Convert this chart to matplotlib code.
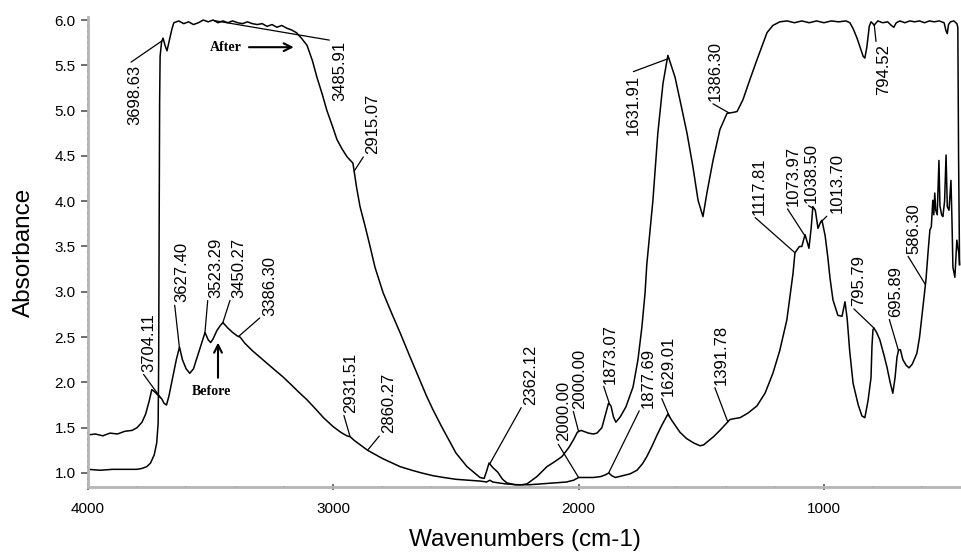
import numpy as np
import matplotlib
matplotlib.use('Agg')
import matplotlib.pyplot as plt
from matplotlib.ticker import MultipleLocator, FormatStrFormatter

plt.rcParams['font.family'] = ['Liberation Sans', 'DejaVu Sans']

# "After" spectrum (upper curve)
after_wn = [4000, 3950, 3900, 3850, 3800, 3780, 3760, 3745, 3730, 3720,
            3714, 3712, 3710, 3708, 3706, 3700, 3694, 3686, 3678, 3668,
            3658, 3650, 3630, 3610, 3590, 3570, 3550, 3530, 3510, 3490,
            3470, 3450, 3430, 3410, 3390, 3370, 3350, 3330, 3310, 3290,
            3270, 3250, 3230, 3210, 3190, 3170, 3150, 3130, 3107, 3085,
            3067, 3045, 3026, 3005, 2985, 2965, 2944, 2920, 2905, 2891,
            2870, 2850, 2830, 2810, 2797, 2760, 2728, 2690, 2659, 2620,
            2594, 2560, 2540, 2500, 2455, 2420, 2402, 2385, 2375, 2365,
            2350, 2330, 2310, 2292, 2260, 2230, 2210, 2170, 2129, 2100,
            2068, 2040, 2020, 2005, 1990, 1960, 1940, 1925, 1905, 1890,
            1878, 1868, 1858, 1848, 1830, 1807, 1778, 1758, 1742, 1729,
            1722, 1697, 1677, 1656, 1636, 1607, 1587, 1558, 1534, 1513,
            1493, 1477, 1452, 1424, 1395, 1370, 1354, 1330, 1302, 1273,
            1232, 1208, 1180, 1150, 1120, 1090, 1060, 1030, 1000, 970,
            940, 910, 894, 880, 865, 850, 840, 833, 825, 815,
            808, 800, 795, 790, 780, 760, 740, 725, 715, 705,
            690, 670, 650, 630, 610, 590, 570, 550, 530, 510,
            502, 497, 492, 484, 470, 458, 454, 451, 447]
after_abs = [1.04, 1.03, 1.04, 1.04, 1.04, 1.05, 1.07, 1.11, 1.20, 1.33,
             1.55, 2.20, 3.80, 5.10, 5.60, 5.76, 5.80, 5.72, 5.66, 5.78,
             5.90, 5.97, 5.99, 5.96, 5.98, 5.95, 5.97, 6.00, 5.98, 6.00,
             5.97, 5.99, 5.97, 5.99, 5.97, 5.96, 5.98, 5.96, 5.95, 5.96,
             5.93, 5.95, 5.92, 5.94, 5.91, 5.89, 5.86, 5.80, 5.72, 5.55,
             5.37, 5.18, 5.00, 4.84, 4.68, 4.58, 4.49, 4.42, 4.15, 3.94,
             3.72, 3.50, 3.27, 3.10, 2.99, 2.75, 2.55, 2.30, 2.10, 1.85,
             1.70, 1.52, 1.42, 1.22, 1.07, 0.99, 0.95, 0.94, 1.02, 1.11,
             1.06, 1.01, 0.93, 0.89, 0.87, 0.87, 0.88, 0.96, 1.07, 1.12,
             1.18, 1.28, 1.37, 1.45, 1.47, 1.44, 1.43, 1.44, 1.50, 1.65,
             1.77, 1.74, 1.62, 1.56, 1.62, 1.73, 1.95, 2.25, 2.61, 2.99,
             3.30, 4.01, 4.75, 5.30, 5.61, 5.37, 5.12, 4.75, 4.38, 4.01,
             3.83, 4.09, 4.45, 4.79, 4.97, 4.98, 4.99, 5.12, 5.34, 5.56,
             5.86, 5.94, 5.98, 5.99, 5.97, 5.99, 5.97, 5.99, 5.97, 5.99,
             5.98, 5.99, 5.97, 5.90, 5.80, 5.68, 5.60, 5.58, 5.70, 5.93,
             5.98, 5.96, 5.94, 5.96, 5.99, 5.97, 5.98, 5.94, 5.92, 5.97,
             5.99, 5.97, 5.99, 5.98, 5.99, 5.97, 5.99, 5.98, 5.99, 5.97,
             5.88, 5.85, 5.95, 5.98, 5.99, 5.96, 5.92, 4.50, 3.30]

# "Before" spectrum (lower curve)
before_wn = [4000, 3970, 3940, 3910, 3880, 3850, 3820, 3800, 3780, 3765,
             3750, 3740, 3730, 3715, 3700, 3690, 3680, 3670, 3655, 3640,
             3627, 3615, 3600, 3585, 3570, 3550, 3535, 3523, 3510, 3500,
             3490, 3475, 3460, 3450, 3430, 3410, 3390, 3380, 3360, 3330,
             3300, 3270, 3240, 3205, 3170, 3140, 3108, 3070, 3040, 3000,
             2970, 2945, 2931, 2915, 2890, 2870, 2860, 2840, 2800, 2760,
             2728, 2680, 2640, 2594, 2550, 2500, 2450, 2400, 2375, 2362,
             2350, 2300, 2250, 2200, 2150, 2100, 2050, 2020, 2000, 1980,
             1940, 1910, 1890, 1877, 1865, 1850, 1820, 1790, 1762, 1740,
             1722, 1700, 1680, 1660, 1636, 1620, 1600, 1587, 1560, 1530,
             1505, 1490, 1477, 1450, 1424, 1400, 1383, 1365, 1342, 1310,
             1273, 1240, 1208, 1180, 1151, 1126, 1118, 1100, 1090, 1077,
             1068, 1061, 1052, 1045, 1035, 1024, 1015, 1008, 995, 984,
             975, 963, 943, 926, 914, 905, 895, 881, 860, 845,
             833, 820, 808, 804, 800, 796, 785, 772, 755, 743,
             730, 719, 710, 702, 695, 688, 678, 665, 653, 640,
             621, 610, 601, 590, 584, 575, 568, 562, 556, 552,
             548, 544, 538, 531, 527, 520, 515, 508, 502, 497,
             490, 482, 478, 474, 466, 458, 450, 447]
before_abs = [1.42, 1.43, 1.41, 1.44, 1.43, 1.46, 1.47, 1.50, 1.56, 1.65,
              1.80, 1.92, 1.90, 1.86, 1.82, 1.77, 1.75, 1.85, 2.05, 2.25,
              2.39, 2.25, 2.15, 2.10, 2.15, 2.32, 2.45, 2.55, 2.47, 2.44,
              2.48, 2.57, 2.63, 2.66, 2.60, 2.55, 2.51, 2.50, 2.43, 2.35,
              2.28, 2.21, 2.14, 2.06, 1.97, 1.89, 1.81, 1.70, 1.61, 1.51,
              1.45, 1.41, 1.40, 1.36, 1.31, 1.27, 1.25, 1.22, 1.16, 1.11,
              1.07, 1.03, 1.00, 0.97, 0.95, 0.93, 0.92, 0.91, 0.90, 0.92,
              0.90, 0.88, 0.87, 0.87, 0.88, 0.89, 0.90, 0.92, 0.95, 0.95,
              0.95, 0.96, 0.98, 1.00, 0.97, 0.95, 0.97, 0.99, 1.03, 1.10,
              1.18, 1.30, 1.42, 1.53, 1.65, 1.58, 1.50, 1.45, 1.38, 1.33,
              1.30, 1.31, 1.34, 1.40, 1.47, 1.54, 1.59, 1.60, 1.61, 1.66,
              1.74, 1.88, 2.10, 2.35, 2.69, 3.20, 3.43, 3.50, 3.50, 3.63,
              3.55, 3.48, 3.70, 3.94, 3.90, 3.70, 3.76, 3.79, 3.62, 3.38,
              3.15, 2.91, 2.74, 2.73, 2.89, 2.70, 2.35, 1.99, 1.75, 1.63,
              1.61, 1.80, 2.05, 2.40, 2.58, 2.60, 2.55, 2.47, 2.30, 2.17,
              2.00, 1.88, 2.05, 2.28, 2.36, 2.36, 2.25, 2.19, 2.16, 2.20,
              2.32, 2.50, 2.72, 3.00, 3.13, 3.45, 3.68, 3.72, 4.01, 3.85,
              4.09, 3.90, 3.85, 4.45, 3.95, 3.85, 3.83, 4.00, 4.51, 3.94,
              3.90, 4.23, 3.80, 3.27, 3.16, 3.57, 3.43, 3.30]

# peak labels and the curve they belong to
peak_labels = ['3698.63', '3485.91', '2915.07', '2362.12', '2000.00', '1873.07',
               '1631.91', '1386.30', '794.52',
               '3704.11', '3627.40', '3523.29', '3450.27', '3386.30', '2931.51',
               '2860.27', '2000.00', '1877.69', '1629.01', '1391.78', '1117.81',
               '1073.97', '1038.50', '1013.70', '795.79', '695.89', '586.30']
peak_series = ['after'] * 9 + ['before'] * 18

# leader offsets (pixels) from the peak to the label
label_offsets = [(-35, -24), (118, -20), (11, 17), (33, 59), (-6, 23), (-7, 21),
                 (-43, -16), (-21, 12), (2, -19),
                 (-19, 26), (-5, 45), (3, 35), (8, 25), (24, 21), (-7, 24),
                 (14, 17), (-22, 36), (32, 65), (-9, 21), (-14, 37), (-43, 38),
                 (-20, 31), (-11, 6), (9, 9), (-23, 22), (-10, 34), (-19, 31)]

fig = plt.figure(figsize=(9.62, 5.52), dpi=100)
ax = fig.add_axes([88 / 962, 65 / 552, 874 / 962, 469.7 / 552])

ax.plot(after_wn, after_abs, color='black', lw=1.1)
ax.plot(before_wn, before_abs, color='black', lw=1.1)

curves = {'after': (after_wn[::-1], after_abs[::-1]),
          'before': (before_wn[::-1], before_abs[::-1])}

for lab, ser, (dx, dy) in zip(peak_labels, peak_series, label_offsets):
    wn = float(lab)
    xs, ys = curves[ser]
    y = np.interp(wn, xs, ys)
    va = 'bottom' if dy > 0 else 'top'
    ax.annotate(lab, xy=(wn, y), xytext=(dx, dy), textcoords='offset pixels',
                rotation=90, ha='left', va=va, fontsize=12,
                arrowprops=dict(arrowstyle='-', lw=0.9, color='black',
                                shrinkA=0, shrinkB=0,
                                relpos=(0, 0 if dy > 0 else 1)))

serif = ['Liberation Serif', 'DejaVu Serif']
ax.text(3437, 5.70, 'After', family=serif, weight='bold', fontsize=10,
        ha='center', va='center')
ax.annotate('', xy=(3150, 5.70), xytext=(3355, 5.70),
            arrowprops=dict(arrowstyle='->', lw=1.5, color='black', mutation_scale=14))
ax.text(3495, 1.90, 'Before', family=serif, weight='bold', fontsize=10,
        ha='center', va='center')
ax.annotate('', xy=(3470, 2.47), xytext=(3470, 2.02),
            arrowprops=dict(arrowstyle='->', lw=1.5, color='black', mutation_scale=14))

ax.set_xlim(4000, 437)
ax.set_ylim(0.845, 6.03)

for s in ['top', 'right']:
    ax.spines[s].set_visible(False)
for s in ['left', 'bottom']:
    ax.spines[s].set_color('#b5b5b5')
    ax.spines[s].set_linewidth(2)

ax.xaxis.set_major_locator(MultipleLocator(1000))
ax.xaxis.set_minor_locator(MultipleLocator(200))
ax.yaxis.set_major_locator(MultipleLocator(0.5))
ax.yaxis.set_minor_locator(MultipleLocator(0.0625))
ax.yaxis.set_major_formatter(FormatStrFormatter('%.1f'))

ax.tick_params(axis='y', which='major', direction='out', length=5, width=1.2,
               color='#555555', labelsize=11, pad=4)
ax.tick_params(axis='x', which='major', direction='inout', length=5, width=1.2,
               color='#555555', labelsize=11, pad=8)
ax.tick_params(which='minor', direction='inout', length=2, width=1.5, color='#555555')

ax.set_xlabel('Wavenumbers (cm-1)', fontsize=17.5, labelpad=10)
ax.set_ylabel('Absorbance', fontsize=17.5, labelpad=14)

fig.savefig('out.png', dpi=100)
